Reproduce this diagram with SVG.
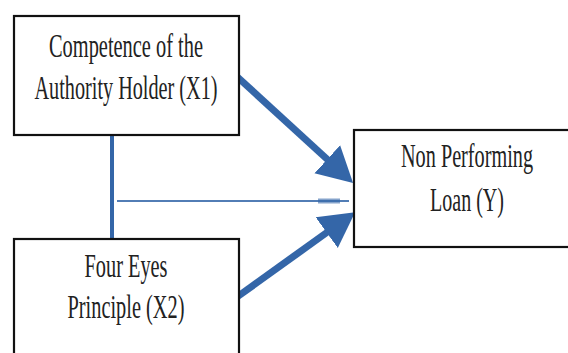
<svg xmlns="http://www.w3.org/2000/svg" width="568" height="353" viewBox="0 0 568 353">
<style>
.box{fill:#fff;stroke:#111;stroke-width:2.2}
.t{font-family:"Liberation Serif","Times New Roman",serif;font-size:34px;fill:#222;text-anchor:middle}
.c{stroke:#3466a8;fill:none}
</style>
<defs>
<marker id="ah" markerUnits="userSpaceOnUse" markerWidth="36" markerHeight="40" refX="1" refY="20" orient="auto">
<path d="M0,1 L35,20 L0,39 z" fill="#3466a8"/>
</marker>
</defs>
<rect width="568" height="353" fill="#fff"/>
<g id="connectors">
<line class="c" x1="112" y1="135" x2="112" y2="240" stroke-width="4"/>
<line class="c" x1="117" y1="201" x2="349" y2="201" stroke-width="2" opacity="0.85"/>
<line class="c" x1="318" y1="201" x2="340" y2="201" stroke-width="5" opacity="0.6"/>
<line class="c" x1="233" y1="73" x2="328" y2="160" stroke-width="7" marker-end="url(#ah)"/>
<line class="c" x1="237" y1="297" x2="327.5" y2="232" stroke-width="7" marker-end="url(#ah)"/>
</g>
<g id="x1">
<rect class="box" x="14" y="16" width="225" height="119"/>
<text class="t" x="126" y="57" textLength="154" lengthAdjust="spacingAndGlyphs">Competence of the</text>
<text class="t" x="126" y="99" textLength="183" lengthAdjust="spacingAndGlyphs">Authority Holder (X1)</text>
</g>
<g id="x2">
<rect class="box" x="14" y="239" width="225" height="130"/>
<text class="t" x="126" y="277" textLength="83" lengthAdjust="spacingAndGlyphs">Four Eyes</text>
<text class="t" x="126" y="318" textLength="117" lengthAdjust="spacingAndGlyphs">Principle (X2)</text>
</g>
<g id="y">
<rect class="box" x="354" y="130" width="226" height="117"/>
<text class="t" x="467" y="167" textLength="132" lengthAdjust="spacingAndGlyphs">Non Performing</text>
<text class="t" x="467" y="211" textLength="74" lengthAdjust="spacingAndGlyphs">Loan (Y)</text>
</g>
</svg>
